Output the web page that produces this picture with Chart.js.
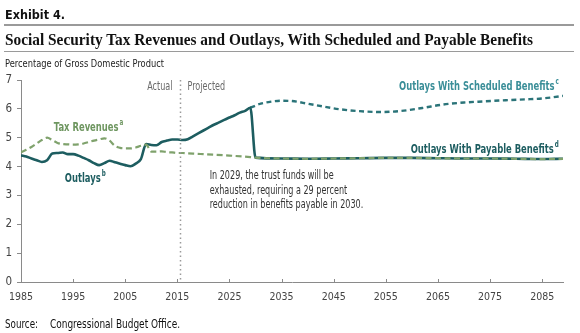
<!DOCTYPE html>
<html>
<head>
<meta charset="utf-8">
<script src="https://cdn.jsdelivr.net/npm/chart.js@4/dist/chart.umd.min.js"></script>
<style>
  html, body { margin: 0; padding: 0; background: #fff; }
  #wrap { position: relative; width: 580px; height: 333px; overflow: hidden; }
  #chart { position: absolute; left: 0; top: 0; }
  .txt { position: absolute; white-space: nowrap; transform-origin: 0 50%; line-height: 1; }
  .rule { position: absolute; left: 4px; width: 570px; background: #9a9a9a; }
  #exhibit { left: 5px; top: 7px; font: bold 13px "DejaVu Sans", sans-serif; color: #111; }
  #title { left: 5px; top: 30px; font: bold 17px "Liberation Serif", serif; color: #111; }
  #units { left: 5px; top: 57px; font: 11px "Liberation Sans Narrow", "DejaVu Sans Condensed", sans-serif; color: #222; }
  #source { left: 5px; top: 317px; font: 500 12px "Liberation Sans Narrow", "DejaVu Sans Condensed", sans-serif; color: #111; }
  #sourceText { left: 50px; top: 317px; font: 500 12px "Liberation Sans Narrow", "DejaVu Sans Condensed", sans-serif; color: #111; }
</style>
</head>
<body>
<div id="wrap">
  <canvas id="chart" width="580" height="333"></canvas>
  <div class="txt" id="exhibit" data-w="60">Exhibit 4.</div>
  <div class="rule" style="top:24px;height:2px;"></div>
  <div class="txt" id="title" data-w="528">Social Security Tax Revenues and Outlays, With Scheduled and Payable Benefits</div>
  <div class="rule" style="top:51px;height:1px;"></div>
  <div class="txt" id="units" data-w="159">Percentage of Gross Domestic Product</div>
  <div class="txt" id="source" data-w="33">Source:</div>
  <div class="txt" id="sourceText" data-w="130">Congressional Budget Office.</div>
</div>
<script>
// Social Security, percent of GDP
const outlayYears = [1985, 1986, 1987, 1988, 1989, 1990, 1991, 1992, 1993, 1994, 1995, 1996, 1997, 1998, 1999,
  2000, 2001, 2002, 2003, 2004, 2005, 2006, 2007, 2008, 2009, 2010, 2011, 2012, 2013, 2014, 2015, 2016, 2017,
  2018, 2019, 2020, 2021, 2022, 2023, 2024, 2025, 2026, 2027, 2028, 2029,
  2030, 2035, 2040, 2045, 2050, 2055, 2060, 2065, 2070, 2075, 2080, 2085, 2089];
const outlayValues = [4.39, 4.35, 4.28, 4.22, 4.16, 4.22, 4.45, 4.47, 4.49, 4.43, 4.43, 4.38, 4.30, 4.22, 4.12,
  4.05, 4.12, 4.20, 4.15, 4.10, 4.05, 4.01, 4.10, 4.26, 4.78, 4.75, 4.74, 4.85, 4.90, 4.94, 4.94, 4.92, 4.95,
  5.05, 5.15, 5.25, 5.35, 5.45, 5.53, 5.62, 5.70, 5.78, 5.87, 5.93, 6.04,
  4.31, 4.28, 4.27, 4.28, 4.29, 4.30, 4.30, 4.29, 4.28, 4.28, 4.27, 4.26, 4.27];

const revenueYears = [1985, 1986, 1987, 1988, 1989, 1990, 1991, 1992, 1993, 1994, 1995, 1996, 1997, 1998, 1999,
  2000, 2001, 2002, 2003, 2004, 2005, 2006, 2007, 2008, 2009, 2010, 2011, 2012, 2013, 2014, 2015, 2016, 2017,
  2018, 2020, 2025, 2029, 2030, 2035, 2040, 2045, 2050, 2055, 2060, 2065, 2070, 2075, 2080, 2085, 2089];
const revenueValues = [4.50, 4.58, 4.68, 4.80, 4.92, 5.00, 4.92, 4.82, 4.78, 4.77, 4.76, 4.77, 4.80, 4.85, 4.90,
  4.94, 4.98, 4.90, 4.72, 4.65, 4.63, 4.63, 4.66, 4.72, 4.76, 4.52, 4.52, 4.53, 4.50, 4.49, 4.47, 4.47, 4.46,
  4.45, 4.43, 4.38, 4.33, 4.31, 4.28, 4.27, 4.28, 4.29, 4.30, 4.30, 4.29, 4.28, 4.28, 4.27, 4.26, 4.27];

const scheduledYears = [2029, 2031, 2033, 2035, 2037, 2040, 2043, 2046, 2050, 2054, 2058, 2062, 2066, 2070,
  2074, 2078, 2082, 2085, 2087, 2089];
const scheduledValues = [6.04, 6.18, 6.25, 6.28, 6.27, 6.18, 6.08, 5.99, 5.92, 5.89, 5.93, 6.03, 6.15, 6.22,
  6.26, 6.30, 6.33, 6.36, 6.40, 6.45];

const xTicks = [1985, 1995, 2005, 2015, 2025, 2035, 2045, 2055, 2065, 2075, 2085];
const yTicks = [0, 1, 2, 3, 4, 5, 6, 7];
const projectionStart = 2015.6;

const TEAL_DARK = "#1d5d60";
const TEAL = "#2b7479";
const TEAL_LABEL = "#3a8e98";
const GREEN = "#7fa26c";
const GREEN_LABEL = "#6e9660";
const NARROW = '"Liberation Sans Narrow", "DejaVu Sans Condensed", sans-serif';
const SQUEEZE = 0.78; // horizontal compression for in-chart text

function toPoints(xs, ys) {
  return xs.map((x, i) => ({ x: x, y: ys[i] }));
}

// squeeze the html labels into their measured widths
document.querySelectorAll(".txt").forEach((el) => {
  const target = Number(el.dataset.w);
  const w = el.getBoundingClientRect().width;
  if (target && w) el.style.transform = "scaleX(" + (target / w) + ")";
});

// draw left-aligned text compressed horizontally, returns drawn width
function narrowText(ctx, text, x, y) {
  ctx.save();
  ctx.translate(x, y);
  ctx.scale(SQUEEZE, 1);
  ctx.textAlign = "left";
  ctx.fillText(text, 0, 0);
  ctx.restore();
  return ctx.measureText(text).width * SQUEEZE;
}

// small upward ticks on the x axis, the actual/projected divider and the series notes
const decorations = {
  id: "decorations",
  afterDatasetsDraw(chart) {
    const { ctx, chartArea, scales } = chart;
    const xs = scales.x, ys = scales.y;
    ctx.save();

    ctx.strokeStyle = "#8a8a8a";
    ctx.lineWidth = 1;
    xTicks.forEach((t) => {
      const px = Math.round(xs.getPixelForValue(t)) + 0.5;
      ctx.beginPath();
      ctx.moveTo(px, chartArea.bottom);
      ctx.lineTo(px, chartArea.bottom - 3);
      ctx.stroke();
    });

    const dx = Math.round(xs.getPixelForValue(projectionStart)) + 0.5;
    ctx.strokeStyle = "#9a9a9a";
    ctx.lineWidth = 1.5;
    ctx.setLineDash([1.5, 3]);
    ctx.beginPath();
    ctx.moveTo(dx, chartArea.top);
    ctx.lineTo(dx, chartArea.bottom);
    ctx.stroke();
    ctx.setLineDash([]);

    ctx.font = "11.5px " + NARROW;
    ctx.fillStyle = "#6a6a6a";
    ctx.textBaseline = "middle";
    const aw = ctx.measureText("Actual").width * SQUEEZE;
    narrowText(ctx, "Actual", dx - 8 - aw, chartArea.top + 7);
    narrowText(ctx, "Projected", dx + 7, chartArea.top + 7);

    const note = [
      "In 2029, the trust funds will be",
      "exhausted, requiring a 29 percent",
      "reduction in benefits payable in 2030."
    ];
    ctx.fillStyle = "#333";
    ctx.font = "11.5px " + NARROW;
    const nx = xs.getPixelForValue(2021.2);
    note.forEach((line, i) => {
      narrowText(ctx, line, nx, ys.getPixelForValue(3.72) + 1.5 + i * 14.5);
    });

    const label = (text, sup, year, value, color, align) => {
      ctx.font = "bold 12px " + NARROW;
      const w = ctx.measureText(text).width * SQUEEZE;
      ctx.font = "bold 8px " + NARROW;
      const sw = ctx.measureText(sup).width * SQUEEZE;
      let x = xs.getPixelForValue(year);
      if (align === "right") x -= w + sw + 1;
      const y = ys.getPixelForValue(value);
      ctx.fillStyle = color;
      ctx.font = "bold 12px " + NARROW;
      narrowText(ctx, text, x, y);
      ctx.font = "bold 8px " + NARROW;
      narrowText(ctx, sup, x + w + 1, y - 5);
    };
    label("Tax Revenues", "a", 1991.3, 5.35, GREEN_LABEL, "left");
    label("Outlays", "b", 1993.4, 3.57, TEAL_DARK, "left");
    label("Outlays With Scheduled Benefits", "c", 2088.2, 6.76, TEAL_LABEL, "right");
    label("Outlays With Payable Benefits", "d", 2088.2, 4.58, TEAL_DARK, "right");

    ctx.restore();
  }
};

new Chart(document.getElementById("chart"), {
  type: "line",
  data: {
    datasets: [
      {
        label: "Outlays",
        data: toPoints(outlayYears, outlayValues),
        borderColor: TEAL_DARK,
        borderWidth: 2.6,
        order: 2
      },
      {
        label: "Outlays With Scheduled Benefits",
        data: toPoints(scheduledYears, scheduledValues),
        borderColor: TEAL,
        borderWidth: 2.4,
        borderDash: [5, 3.5],
        order: 3
      },
      {
        label: "Tax Revenues",
        data: toPoints(revenueYears, revenueValues),
        borderColor: GREEN,
        borderWidth: 2.2,
        borderDash: [6, 3.5],
        order: 1
      }
    ]
  },
  options: {
    responsive: false,
    animation: false,
    devicePixelRatio: 1,
    parsing: false,
    elements: {
      point: { radius: 0 },
      line: { cubicInterpolationMode: "monotone", fill: false, borderCapStyle: "butt" }
    },
    layout: { padding: { top: 80, right: 17, left: 0, bottom: 21 } },
    plugins: {
      legend: { display: false },
      tooltip: { enabled: false }
    },
    scales: {
      x: {
        type: "linear",
        min: 1985,
        max: 2089,
        afterBuildTicks: (scale) => {
          scale.ticks = xTicks.map((v) => ({ value: v }));
        },
        afterFit: (scale) => { scale.height = 30; },
        grid: { display: false, drawTicks: false },
        border: { display: true, color: "#8a8a8a", width: 1 },
        ticks: {
          padding: 9,
          maxRotation: 0,
          autoSkip: false,
          color: "#444",
          font: { family: NARROW, size: 10.5 },
          callback: (v) => String(v)
        }
      },
      y: {
        min: 0,
        max: 7,
        afterBuildTicks: (scale) => {
          scale.ticks = yTicks.map((v) => ({ value: v }));
        },
        afterFit: (scale) => { scale.width = 17; },
        grid: { drawOnChartArea: false, tickLength: 4, color: "#8a8a8a" },
        border: { display: true, color: "#8a8a8a", width: 1 },
        ticks: {
          padding: 5,
          color: "#444",
          font: { family: NARROW, size: 11.5 }
        }
      }
    }
  },
  plugins: [decorations]
});
</script>
</body>
</html>
